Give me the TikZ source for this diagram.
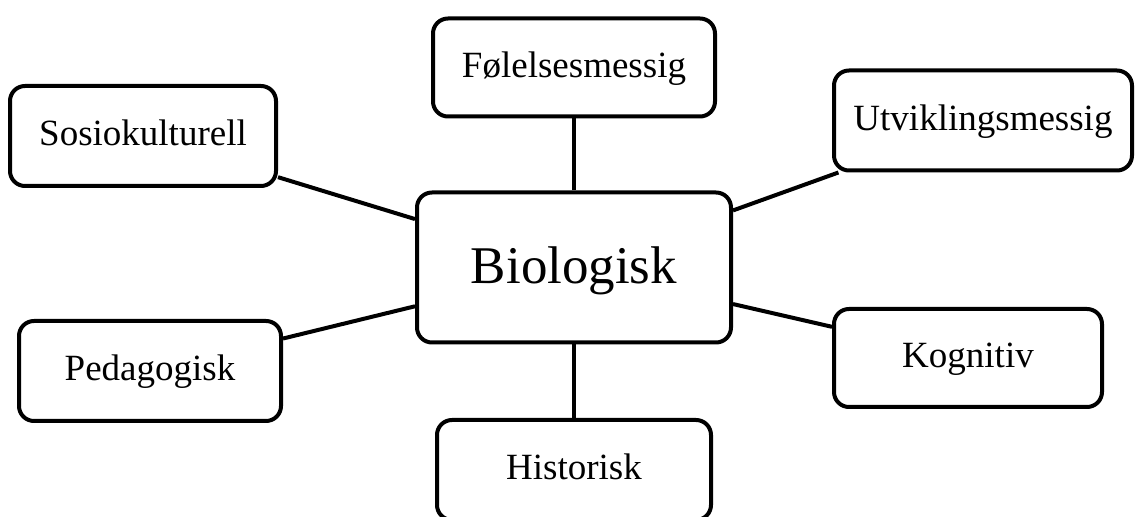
\documentclass[tikz,border=0pt]{standalone}
\usepackage{fontspec}
\setmainfont{Liberation Serif}
\usetikzlibrary{positioning}

\begin{document}
\begin{tikzpicture}[
    x=0.5pt, y=-0.5pt,
    box/.style={rectangle,draw=black,fill=white,line width=2pt,rounded corners=7.5pt,
        font=\fontsize{18.5}{22}\selectfont,inner sep=0pt,text height=13pt,text depth=3pt},
    core/.style={box,font=\fontsize{26.5}{32}\selectfont,text height=19.5pt,text depth=3pt},
    link/.style={draw=black,line width=2pt}
]
    \useasboundingbox (0,0) rectangle (1136,517);

    % centre and the six fields round it
    \node[core,minimum width=157pt,minimum height=75pt] (bio) at (574,267.5) {Biologisk};
    \node[box,minimum width=141pt,minimum height=49pt] (fol) at (574,67.5) {Følelsesmessig};
    \node[box,minimum width=133pt,minimum height=50pt] (sos) at (143,136) {Sosiokulturell};
    \node[box,minimum width=149pt,minimum height=50pt] (utv) at (983,120.5) {Utviklingsmessig};
    \node[box,minimum width=131pt,minimum height=50pt] (ped) at (150,371) {Pedagogisk};
    \node[box,minimum width=134pt,minimum height=49pt] (kog) at (968,358) {Kognitiv};
    \node[box,minimum width=137pt,minimum height=50pt] (his) at (574,470) {Historisk};

    % connectors
    \foreach \n in {fol,sos,utv,ped,kog,his}
        \draw[link] (bio) -- (\n);

\end{tikzpicture}
\end{document}
